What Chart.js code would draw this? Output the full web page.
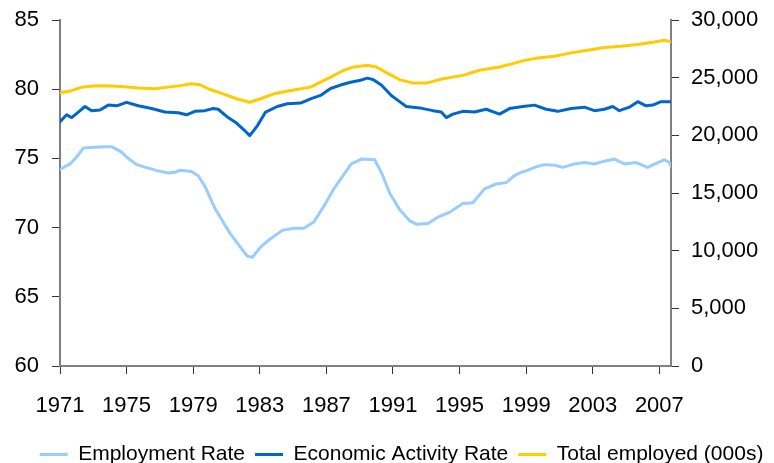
<!DOCTYPE html>
<html>
<head>
<meta charset="utf-8">
<script src="https://cdn.jsdelivr.net/npm/chart.js@4.4.1/dist/chart.umd.min.js"></script>
<style>
  html, body { margin: 0; padding: 0; background: #fff; }
  #wrap { width: 774px; height: 463px; }
</style>
</head>
<body>
<div id="wrap"><canvas id="labourChart" width="774" height="463"></canvas></div>
<script>
// values
var xTickYears = [1971, 1975, 1979, 1983, 1987, 1991, 1995, 1999, 2003, 2007];
var leftTicks = [60, 65, 70, 75, 80, 85];
var rightTicks = [0, 5000, 10000, 15000, 20000, 25000, 30000];

var empYears = [1971.0, 1971.6, 1972.0, 1972.4, 1973.1, 1973.7, 1974.1, 1974.7, 1975.0, 1975.6,
    1976.3, 1976.9, 1977.5, 1977.9, 1978.2, 1978.9, 1979.3, 1979.7, 1980.0, 1980.3,
    1980.6, 1981.2, 1981.8, 1982.25, 1982.55, 1983.05, 1983.65, 1984.35, 1985.05, 1985.65,
    1986.25, 1986.85, 1987.45, 1988.05, 1988.5, 1989.1, 1989.9, 1990.3, 1990.8, 1991.4,
    1992.0, 1992.4, 1993.1, 1993.7, 1994.4, 1995.2, 1995.8, 1996.5, 1997.2, 1997.8,
    1998.3, 1998.7, 1999.0, 1999.5, 2000.1, 2000.7, 2001.2, 2001.9, 2002.5, 2003.1,
    2003.7, 2004.3, 2004.9, 2005.6, 2006.3, 2006.9, 2007.3, 2007.6, 2007.7];
var empRate = [74.2, 74.6, 75.1, 75.75, 75.8, 75.85, 75.85, 75.45, 75.1, 74.55,
    74.3, 74.1, 73.95, 74.0, 74.15, 74.05, 73.75, 73.0, 72.2, 71.4,
    70.8, 69.6, 68.65, 67.95, 67.85, 68.6, 69.2, 69.8, 69.95, 69.95,
    70.4, 71.55, 72.8, 73.85, 74.6, 74.95, 74.9, 74.0, 72.5, 71.3,
    70.5, 70.25, 70.3, 70.75, 71.1, 71.75, 71.8, 72.8, 73.15, 73.25,
    73.75, 74.0, 74.1, 74.35, 74.55, 74.5, 74.35, 74.6, 74.7, 74.6,
    74.8, 74.95, 74.6, 74.7, 74.35, 74.7, 74.9, 74.7, 74.4];

var actYears = [1971.0, 1971.4, 1971.7, 1972.1, 1972.5, 1972.9, 1973.4, 1973.9, 1974.4, 1975.0,
    1975.7, 1976.5, 1977.3, 1978.1, 1978.6, 1979.1, 1979.7, 1980.2, 1980.5, 1981.1,
    1981.6, 1982.1, 1982.4, 1982.85, 1983.35, 1984.05, 1984.65, 1985.45, 1986.05, 1986.65,
    1987.25, 1987.85, 1988.45, 1989.05, 1989.45, 1989.8, 1990.3, 1990.9, 1991.4, 1991.8,
    1992.6, 1993.4, 1993.9, 1994.2, 1994.6, 1995.2, 1995.9, 1996.6, 1997.4, 1998.0,
    1998.8, 1999.5, 2000.2, 2000.9, 2001.7, 2002.5, 2003.1, 2003.7, 2004.2, 2004.6,
    2005.2, 2005.7, 2006.2, 2006.6, 2007.1, 2007.7];
var actRate = [77.65, 78.15, 77.95, 78.35, 78.75, 78.45, 78.5, 78.85, 78.8, 79.05,
    78.8, 78.6, 78.35, 78.3, 78.15, 78.4, 78.45, 78.6, 78.55, 77.95,
    77.55, 77.0, 76.65, 77.35, 78.35, 78.75, 78.95, 79.0, 79.3, 79.55,
    80.05, 80.3, 80.5, 80.65, 80.8, 80.7, 80.3, 79.55, 79.1, 78.75,
    78.65, 78.45, 78.35, 77.95, 78.2, 78.4, 78.35, 78.55, 78.2, 78.6,
    78.75, 78.85, 78.55, 78.4, 78.6, 78.7, 78.45, 78.55, 78.75, 78.45,
    78.7, 79.1, 78.8, 78.85, 79.1, 79.1];

var totYears = [1971.0, 1971.7, 1972.3, 1973.0, 1973.7, 1974.7, 1975.7, 1976.7, 1977.5, 1978.3,
    1978.9, 1979.4, 1979.9, 1980.8, 1981.6, 1982.4, 1983.05, 1983.85, 1984.85, 1986.05,
    1986.65, 1987.25, 1988.05, 1988.65, 1989.45, 1990.0, 1990.6, 1991.4, 1992.2, 1993.0,
    1994.0, 1995.2, 1996.2, 1997.4, 1998.2, 1998.9, 1999.7, 2000.7, 2001.7, 2002.7,
    2003.7, 2004.7, 2005.7, 2006.7, 2007.3, 2007.7];
var totEmployed = [23700, 23870, 24180, 24270, 24300, 24240, 24100, 24040, 24180, 24330,
    24480, 24390, 24040, 23600, 23170, 22870, 23170, 23600, 23890, 24180,
    24620, 25050, 25640, 25930, 26070, 25930, 25440, 24830, 24530, 24530,
    24910, 25200, 25640, 25930, 26220, 26500, 26710, 26860, 27150, 27380,
    27620, 27730, 27880, 28100, 28250, 28100];

function toPoints(xs, ys) {
    return xs.map(function(x, i) { return { x: x, y: ys[i] }; });
}

function fixedTicks(values) {
    return function(scale) {
        scale.ticks = values.map(function(v) { return { value: v }; });
    };
}

// fixed axis width, and no extra top/bottom room for the end labels
function fixedWidth(w) {
    return function(scale) {
        scale.width = w;
        scale.paddingTop = 0;
        scale.paddingBottom = 0;
    };
}

var tickFont = { family: "'Liberation Sans', Arial, sans-serif", size: 22 };

var ctx = document.getElementById('labourChart').getContext('2d');
var labourChart = new Chart(ctx, {
    type: 'line',
    data: {
        datasets: [{
            label: 'Employment Rate',
            data: toPoints(empYears, empRate),
            borderColor: '#99CCFF',
            backgroundColor: '#99CCFF',
            borderWidth: 3,
            yAxisID: 'y'
        }, {
            label: 'Economic Activity Rate',
            data: toPoints(actYears, actRate),
            borderColor: '#0066CC',
            backgroundColor: '#0066CC',
            borderWidth: 3,
            yAxisID: 'y'
        }, {
            label: 'Total employed (000s)',
            data: toPoints(totYears, totEmployed),
            borderColor: '#FFCC00',
            backgroundColor: '#FFCC00',
            borderWidth: 3,
            yAxisID: 'y1'
        }]
    },
    options: {
        responsive: false,
        animation: false,
        events: [],
        // negative right/bottom padding pushes the legend to where the original has it
        layout: { padding: { left: 0, right: -29, top: 20, bottom: -12 } },
        elements: {
            point: { radius: 0 },
            line: { tension: 0, borderJoinStyle: 'round', borderCapStyle: 'round' }
        },
        scales: {
            x: {
                type: 'linear',
                min: 1971,
                max: 2007.7,
                afterBuildTicks: fixedTicks(xTickYears),
                afterFit: function(scale) { scale.height = 68; },
                grid: { drawOnChartArea: false, tickLength: 8, color: '#333', lineWidth: 1 },
                border: { color: '#808080', width: 2 },
                ticks: {
                    color: '#000',
                    font: tickFont,
                    padding: 19,
                    maxRotation: 0,
                    autoSkip: false,
                    callback: function(value) { return String(value); }
                }
            },
            y: {
                position: 'left',
                min: 60,
                max: 85,
                afterBuildTicks: fixedTicks(leftTicks),
                afterFit: fixedWidth(60),
                grid: { drawOnChartArea: false, tickLength: 8, color: '#333', lineWidth: 1 },
                border: { color: '#808080', width: 2 },
                ticks: { color: '#000', font: tickFont, padding: 13 }
            },
            y1: {
                position: 'right',
                min: 0,
                max: 30000,
                afterBuildTicks: fixedTicks(rightTicks),
                afterFit: fixedWidth(132),
                grid: { drawOnChartArea: false, tickLength: 8, color: '#333', lineWidth: 1 },
                border: { color: '#808080', width: 2 },
                ticks: {
                    color: '#000',
                    font: tickFont,
                    padding: 12,
                    callback: function(value) {
                        return value.toString().replace(/\B(?=(\d{3})+(?!\d))/g, ",");
                    }
                }
            }
        },
        plugins: {
            legend: {
                position: 'bottom',
                labels: {
                    color: '#000',
                    font: { family: "'Liberation Sans', Arial, sans-serif", size: 21 },
                    usePointStyle: true,
                    pointStyle: 'line',
                    pointStyleWidth: 28,
                    boxHeight: 3,
                    padding: 10
                }
            },
            tooltip: { enabled: false }
        }
    }
});
</script>
</body>
</html>
